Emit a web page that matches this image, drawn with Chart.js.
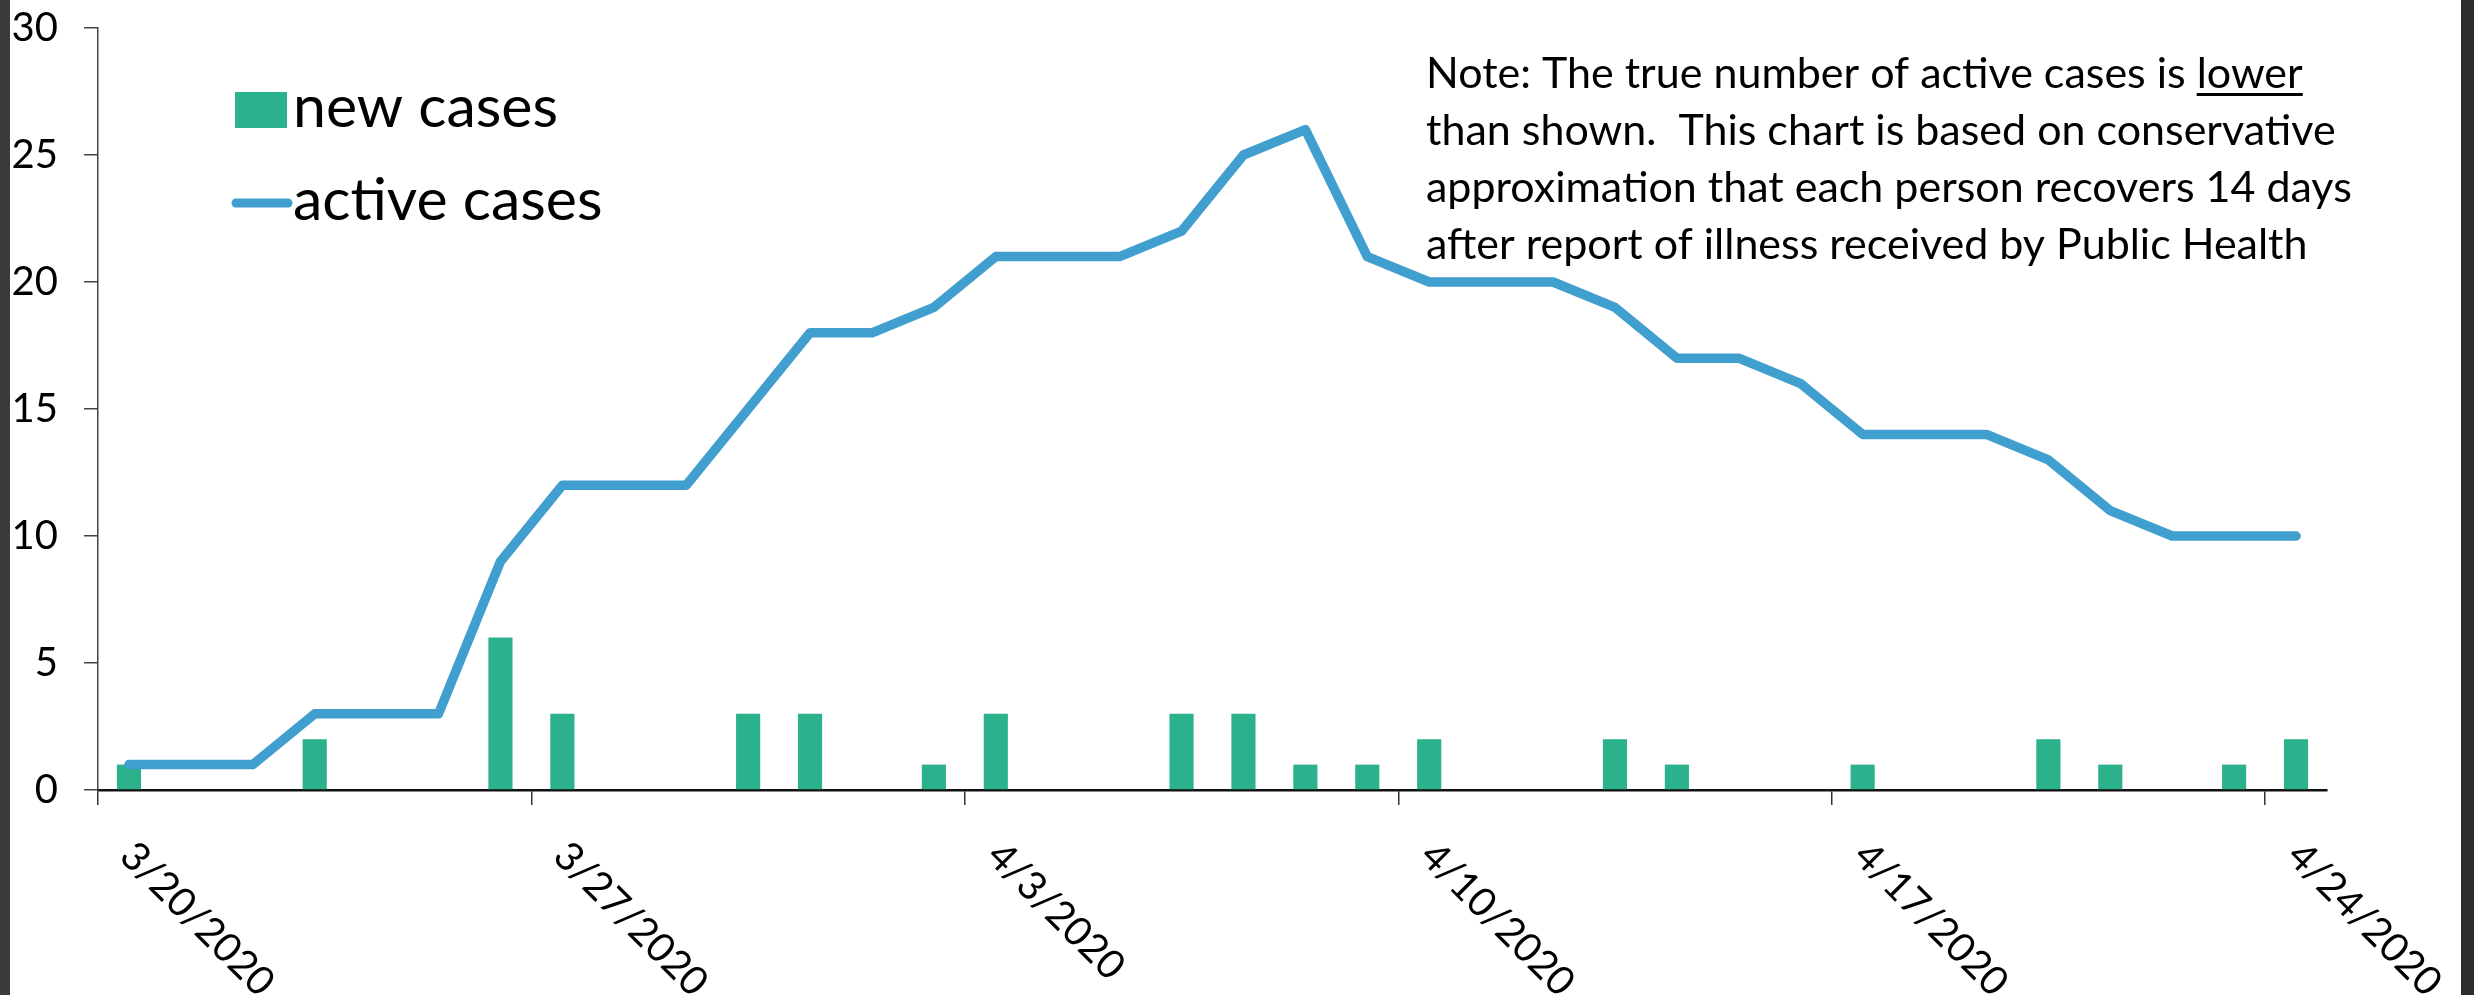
<!DOCTYPE html>
<html>
<head>
<meta charset="utf-8">
<script src="https://cdn.jsdelivr.net/npm/chart.js@4.4.0/dist/chart.umd.min.js"></script>
<style>
  html, body { margin: 0; padding: 0; background: #fff; }
  canvas { display: block; }
</style>
</head>
<body>
<canvas id="myChart" width="2474" height="995"></canvas>
<script>
// daily data
var dates = ['3/20/2020','3/21/2020','3/22/2020','3/23/2020','3/24/2020','3/25/2020','3/26/2020',
  '3/27/2020','3/28/2020','3/29/2020','3/30/2020','3/31/2020','4/1/2020','4/2/2020',
  '4/3/2020','4/4/2020','4/5/2020','4/6/2020','4/7/2020','4/8/2020','4/9/2020',
  '4/10/2020','4/11/2020','4/12/2020','4/13/2020','4/14/2020','4/15/2020','4/16/2020',
  '4/17/2020','4/18/2020','4/19/2020','4/20/2020','4/21/2020','4/22/2020','4/23/2020',
  '4/24/2020']
var newCases    = [1,0,0,2,0,0,6,3,0,0,3,3,0,1,3,0,0,3,3,1,1,2,0,0,2,1,0,0,1,0,0,2,1,0,1,2]
var activeCases = [1,1,1,3,3,3,9,12,12,12,15,18,18,19,21,21,21,22,25,26,21,20,20,20,19,17,17,16,14,14,14,13,11,10,10,10]
var xTickLabels = ['3/20/2020','3/27/2020','4/3/2020','4/10/2020','4/17/2020','4/24/2020']
var noteLines = [
  'Note: The true number of active cases is lower',
  'than shown.  This chart is based on conservative',
  'approximation that each person recovers 14 days',
  'after report of illness received by Public Health'
]

var FONT = 'Lato, "Noto Sans", sans-serif'
var green = '#2bb18b', blue = '#409fce'

// frame strips + white background
var framePlugin = {
  id: 'frame',
  beforeDraw: function (chart) {
    var c = chart.ctx
    c.save()
    c.fillStyle = '#fff'
    c.fillRect(0, 0, chart.width, chart.height)
    c.fillStyle = '#3b3b3b'
    c.fillRect(0, 0, 10, chart.height)
    c.fillStyle = '#2d2d2d'
    c.fillRect(2461, 0, chart.width - 2461, chart.height)
    c.restore()
  }
}

// rotated date labels, legend and note
var extrasPlugin = {
  id: 'extras',
  afterDraw: function (chart) {
    var c = chart.ctx
    var x = chart.scales.x
    var half = (x.getPixelForValue(1) - x.getPixelForValue(0)) / 2
    c.save()
    c.fillStyle = '#000'
    c.font = '40px ' + FONT
    c.textAlign = 'left'
    c.textBaseline = 'middle'
    dates.forEach(function (d, i) {
      if (xTickLabels.indexOf(d) < 0) return
      var px = x.getPixelForValue(i) - half
      c.save()
      c.translate(px + 29, 849)
      c.rotate(Math.PI / 4)
      c.fillText(d, 0, 0)
      c.restore()
    })

    // legend
    var ds = chart.data.datasets
    c.textBaseline = 'alphabetic'
    c.font = '59px ' + FONT
    c.fillStyle = ds[0].backgroundColor
    c.fillRect(235, 92, 52, 36)
    c.fillStyle = '#000'
    c.fillText(ds[0].label, 293, 127)
    c.strokeStyle = ds[1].borderColor
    c.lineWidth = 9
    c.lineCap = 'round'
    c.beginPath()
    c.moveTo(236, 203)
    c.lineTo(288, 203)
    c.stroke()
    c.fillText(ds[1].label, 293, 220)

    // note
    c.font = '43px ' + FONT
    var lx = 1426, ly = 88
    noteLines.forEach(function (t, i) {
      c.fillText(t, lx, ly + i * 57)
    })
    var first = noteLines[0]
    var w0 = c.measureText(first.slice(0, first.length - 5)).width
    var w1 = c.measureText('lower').width
    c.fillRect(lx + w0, ly + 5, w1, 3)
    c.restore()
  }
}

var ctx = document.getElementById('myChart').getContext('2d')
var chart = new Chart(ctx, {
  type: 'bar',
  data: {
    labels: dates,
    datasets: [{
      label: 'new cases',
      data: newCases,
      backgroundColor: green,
      categoryPercentage: 1,
      barPercentage: 0.39,
      order: 2
    },
    {
      type: 'line',
      label: 'active cases',
      data: activeCases,
      borderColor: blue,
      borderWidth: 9.5,
      borderCapStyle: 'round',
      borderJoinStyle: 'round',
      pointRadius: 0,
      fill: false,
      tension: 0,
      order: 1
    }]
  },
  options: {
    responsive: false,
    animation: false,
    devicePixelRatio: 1,
    layout: { padding: { left: 0, top: 28, right: 147, bottom: 0 } },
    plugins: { legend: { display: false }, tooltip: { enabled: false } },
    scales: {
      x: {
        type: 'category',
        offset: true,
        grid: {
          offset: true,
          drawOnChartArea: false,
          drawTicks: true,
          tickLength: 15,
          lineWidth: 1.5,
          color: function (c) {
            return (c.index !== undefined && xTickLabels.indexOf(dates[c.index]) >= 0) ? '#333' : 'rgba(0,0,0,0)'
          }
        },
        border: { color: '#111', width: 2.5 },
        ticks: { display: false, autoSkip: false },
        afterFit: function (s) { s.height = 205 }
      },
      y: {
        min: 0,
        max: 30,
        ticks: { stepSize: 5, padding: 26, color: '#000', font: { family: FONT, size: 40 } },
        grid: { drawOnChartArea: false, drawTicks: true, tickLength: 14, lineWidth: 1.5, color: '#444' },
        border: { color: '#444', width: 1.5 },
        afterFit: function (s) {
          s.width = 98
          s.paddingTop = 0
          s.paddingBottom = 0
        }
      }
    }
  },
  plugins: [framePlugin, extrasPlugin]
})
</script>
</body>
</html>
